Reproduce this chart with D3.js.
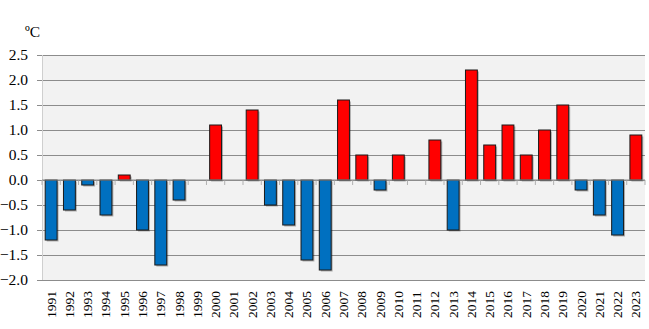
<!DOCTYPE html>
<html>
<head>
<meta charset="utf-8">
<script src="https://cdn.jsdelivr.net/npm/d3@7"></script>
<style>
  html, body { margin: 0; padding: 0; background: #ffffff; }
  svg { display: block; }
</style>
</head>
<body>
<svg id="chart" width="649" height="329"></svg>
<script>
// Annual temperature anomaly (ºC), 1991–2023
const years = ["1991","1992","1993","1994","1995","1996","1997","1998","1999","2000",
  "2001","2002","2003","2004","2005","2006","2007","2008","2009","2010",
  "2011","2012","2013","2014","2015","2016","2017","2018","2019","2020",
  "2021","2022","2023"];
const anomalies = [-1.2, -0.6, -0.1, -0.7, 0.1, -1.0, -1.7, -0.4, 0.0, 1.1,
  0.0, 1.4, -0.5, -0.9, -1.6, -1.8, 1.6, 0.5, -0.2, 0.5,
  0.0, 0.8, -1.0, 2.2, 0.7, 1.1, 0.5, 1.0, 1.5, -0.2,
  -0.7, -1.1, 0.9];
const yTicks = [2.5, 2.0, 1.5, 1.0, 0.5, 0.0, -0.5, -1.0, -1.5, -2.0];
const unitLabel = "ºC";

(function draw() {
  const svg = d3.select("#chart");
  const plotL = 42, plotR = 645, plotT = 55, plotB = 280;
  const serif = '"Liberation Serif"';

  const x = d3.scaleBand().domain(years).range([plotL, plotR]).paddingInner(0.35).paddingOuter(0.175);
  const xStep = d3.scaleBand().domain(years).range([plotL, plotR]);
  const y = d3.scaleLinear().domain([-2.0, 2.5]).range([plotB, plotT]);

  // plot background
  svg.append("rect")
    .attr("x", plotL).attr("y", plotT)
    .attr("width", plotR - plotL).attr("height", plotB - plotT)
    .attr("fill", "#f2f2f2");

  // horizontal gridlines
  const gy = svg.append("g").attr("transform", `translate(${plotR},0)`);
  gy.call(d3.axisLeft(y).tickValues(yTicks).tickSize(plotR - plotL + 5).tickFormat(""));
  gy.select(".domain").remove();
  gy.selectAll(".tick line").attr("stroke", "#8c8c8c").attr("stroke-width", 1.2);

  // y-axis labels
  svg.append("g").selectAll("text").data(yTicks).join("text")
    .attr("x", 28).attr("y", d => y(d))
    .attr("dy", "0.35em")
    .attr("text-anchor", "end")
    .style("font-family", serif).style("font-size", "15.5px").style("fill", "#000")
    .text(d => d3.format(".1f")(d));

  // left axis line
  svg.append("line")
    .attr("x1", plotL + 0.5).attr("x2", plotL + 0.5)
    .attr("y1", plotT).attr("y2", plotB)
    .attr("stroke", "#cfcfcf").attr("stroke-width", 1);

  // category tick marks along the zero line
  const boundaries = years.map(d => xStep(d)).concat([plotR]);
  svg.append("g").selectAll("line").data(boundaries).join("line")
    .attr("x1", d => d).attr("x2", d => d)
    .attr("y1", y(0)).attr("y2", y(0) + 5)
    .attr("stroke", "#b0b0b0").attr("stroke-width", 1);

  // bar shadows
  const bars = years.map((yr, i) => ({ yr, v: anomalies[i] })).filter(d => d.v !== 0);
  svg.append("g").selectAll("rect").data(bars).join("rect")
    .attr("x", d => x(d.yr) + 1.5)
    .attr("y", d => Math.min(y(d.v), y(0)) + 1.5)
    .attr("width", x.bandwidth())
    .attr("height", d => Math.abs(y(d.v) - y(0)))
    .attr("fill", "rgba(0,0,0,0.28)");

  // bars
  svg.append("g").selectAll("rect").data(bars).join("rect")
    .attr("x", d => x(d.yr))
    .attr("y", d => Math.min(y(d.v), y(0)))
    .attr("width", x.bandwidth())
    .attr("height", d => Math.abs(y(d.v) - y(0)))
    .attr("fill", d => d.v > 0 ? "#ff0000" : "#0070c0")
    .attr("stroke", "#1a1a1a").attr("stroke-width", 1);

  // zero line
  svg.append("line")
    .attr("x1", plotL).attr("x2", plotR)
    .attr("y1", y(0)).attr("y2", y(0))
    .attr("stroke", "#8c8c8c").attr("stroke-width", 1.2);

  // x-axis labels, rotated
  svg.append("g").selectAll("text").data(years).join("text")
    .attr("transform", d => `translate(${x(d) + x.bandwidth() / 2 + 4.5},${318}) rotate(-90)`)
    .attr("text-anchor", "start")
    .style("font-family", serif).style("font-size", "13.5px").style("fill", "#000")
    .text(d => d);

  // unit label
  svg.append("text")
    .attr("x", 25).attr("y", 37)
    .style("font-family", serif).style("font-size", "15.5px").style("fill", "#000")
    .text(unitLabel);
})();
</script>
</body>
</html>
